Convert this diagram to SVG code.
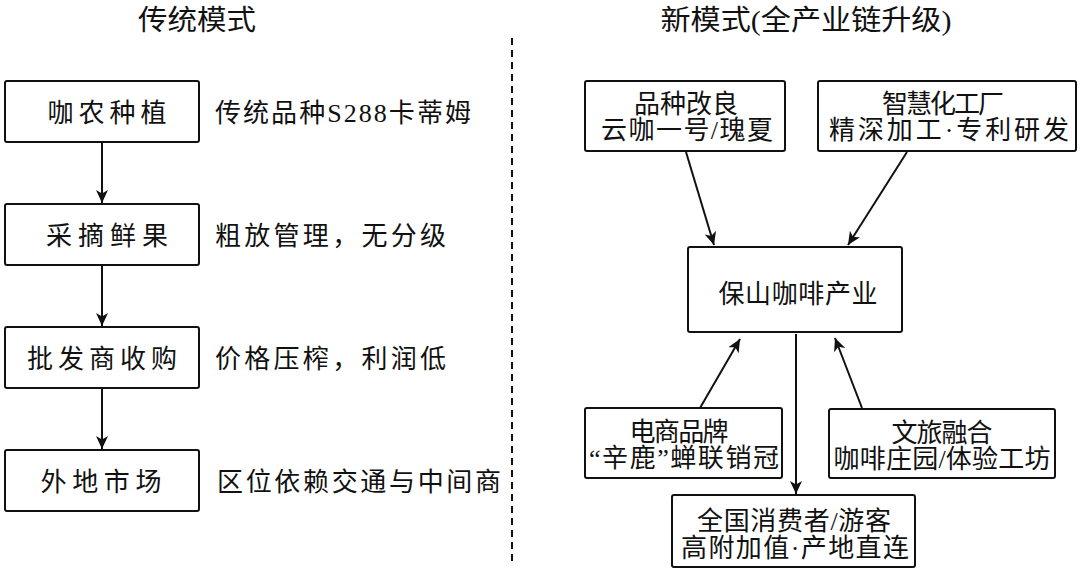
<svg xmlns="http://www.w3.org/2000/svg" width="1080" height="572" viewBox="0 0 1080 572">
<defs>
<marker id="ah" markerUnits="userSpaceOnUse" markerWidth="14" markerHeight="12" refX="13" refY="6" orient="auto">
<path d="M0,0 L13,6 L0,12 L3.5,6 z" fill="#111"/>
</marker>
<style>
.box{fill:#fff;stroke:#111;stroke-width:2}
.t{font-family:"Liberation Serif","Noto Sans CJK SC",serif;font-size:26px;fill:#111;dominant-baseline:central}
.c{text-anchor:middle}
.ttl{font-size:28px}
.ln{stroke:#111;stroke-width:2;fill:none;marker-end:url(#ah)}
</style>
</defs>
<rect width="1080" height="572" fill="#fff"/>
<text class="t c ttl" x="197" y="20" textLength="118" lengthAdjust="spacingAndGlyphs">传统模式</text>
<text class="t c ttl" x="806" y="20" textLength="291" lengthAdjust="spacingAndGlyphs">新模式(全产业链升级)</text>
<line x1="512" y1="38" x2="512" y2="562" stroke="#111" stroke-width="2" stroke-dasharray="7 5"/>
<g id="l1"><rect class="box" x="5" y="81" width="194" height="61" rx="2"/><text class="t c" x="107" y="113" textLength="119">咖农种植</text></g>
<g id="l2"><rect class="box" x="5" y="204" width="194" height="61" rx="2"/><text class="t c" x="107" y="236" textLength="122">采摘鲜果</text></g>
<g id="l3"><rect class="box" x="5" y="327" width="194" height="61" rx="2"/><text class="t c" x="102" y="359" textLength="150">批发商收购</text></g>
<g id="l4"><rect class="box" x="5" y="450" width="194" height="61" rx="2"/><text class="t c" x="101" y="482" textLength="121">外地市场</text></g>
<g id="side">
<text class="t" x="215" y="113" textLength="256">传统品种S288卡蒂姆</text>
<text class="t" x="215" y="236" textLength="231">粗放管理，无分级</text>
<text class="t" x="215" y="359" textLength="231">价格压榨，利润低</text>
<text class="t" x="217" y="482" textLength="284">区位依赖交通与中间商</text>
</g>
<g id="r1"><rect class="box" x="585" y="81" width="200" height="70" rx="2"/><text class="t c" x="686" y="104" textLength="104">品种改良</text><text class="t c" x="687" y="130" textLength="172">云咖一号/瑰夏</text></g>
<g id="r2"><rect class="box" x="818" y="81" width="258" height="70" rx="2"/><text class="t c" x="943" y="104" textLength="122">智慧化工厂</text><text class="t c" x="949" y="130" textLength="240">精深加工·专利研发</text></g>
<g id="center"><rect class="box" x="688" y="247" width="214" height="85" rx="2"/><text class="t c" x="798" y="294" textLength="159">保山咖啡产业</text></g>
<g id="r3"><rect class="box" x="585" y="408" width="197" height="70" rx="2"/><text class="t c" x="679" y="432" textLength="99">电商品牌</text><text class="t c" x="684" y="458" textLength="190">“辛鹿”蝉联销冠</text></g>
<g id="r4"><rect class="box" x="829" y="409" width="226" height="69" rx="2"/><text class="t c" x="942" y="433" textLength="101">文旅融合</text><text class="t c" x="942" y="459" textLength="217">咖啡庄园/体验工坊</text></g>
<g id="r5"><rect class="box" x="672" y="495" width="243" height="72" rx="2"/><text class="t c" x="794" y="521" textLength="194">全国消费者/游客</text><text class="t c" x="795" y="548" textLength="228">高附加值·产地直连</text></g>
<g id="connectors">
<line class="ln" x1="102" y1="142" x2="102" y2="203"/>
<line class="ln" x1="102" y1="265" x2="102" y2="326"/>
<line class="ln" x1="102" y1="388" x2="102" y2="449"/>
<line class="ln" x1="686" y1="152" x2="714" y2="245"/>
<line class="ln" x1="907" y1="152" x2="848" y2="245"/>
<line class="ln" x1="700" y1="408" x2="740" y2="339"/>
<line class="ln" x1="862" y1="408" x2="835" y2="338"/>
<line class="ln" x1="796" y1="334" x2="796" y2="494"/>
</g>
</svg>
